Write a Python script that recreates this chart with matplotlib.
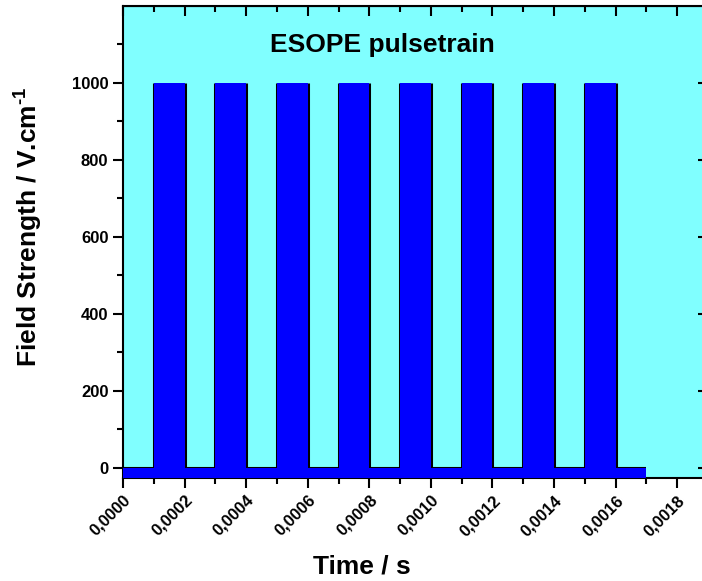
import numpy as np
import matplotlib
matplotlib.use("Agg")
import matplotlib.pyplot as plt

# pulse train values
pulse_on = [0.0001, 0.0003, 0.0005, 0.0007, 0.0009, 0.0011, 0.0013, 0.0015]
pulse_off = [0.0002, 0.0004, 0.0006, 0.0008, 0.0010, 0.0012, 0.0014, 0.0016]
amplitude = 1000
t_start = 0.0
t_stop = 0.0017

x_ticks = [0.0, 0.0002, 0.0004, 0.0006, 0.0008, 0.0010, 0.0012, 0.0014, 0.0016, 0.0018]
x_labels = ["0,0000", "0,0002", "0,0004", "0,0006", "0,0008", "0,0010",
            "0,0012", "0,0014", "0,0016", "0,0018"]
y_ticks = [0, 200, 400, 600, 800, 1000]

# square wave built from the on/off times
t = [t_start]
v = [0]
for a, b in zip(pulse_on, pulse_off):
    t += [a, a, b, b]
    v += [0, amplitude, amplitude, 0]
t.append(t_stop)
v.append(0)
t = np.array(t)
v = np.array(v)

plt.rcParams['font.family'] = ['Liberation Sans', 'DejaVu Sans']
plt.rcParams['font.weight'] = 'bold'
plt.rcParams['mathtext.fontset'] = 'custom'
plt.rcParams['mathtext.rm'] = 'Liberation Sans:bold'
plt.rcParams['mathtext.bf'] = 'Liberation Sans:bold'

fig = plt.figure(figsize=(7.02, 5.81), dpi=100)
ax = fig.add_axes([123 / 702, 1 - 478 / 581, 585 / 702, 472 / 581])
ax.set_facecolor("#80FFFF")

ymin, ymax = -26, 1200
# black edges of the pulses and the zero line, fill drawn over them
ax.vlines(pulse_on + pulse_off, 0, amplitude, color="black", lw=2.2, zorder=2)
ax.hlines(0, t_start, t_stop, color="black", lw=1.5, zorder=2)
ax.fill_between(t, v, ymin, color="#0000FF", lw=0, zorder=3)

ax.set_xlim(0, 0.0019)
ax.set_ylim(ymin, ymax)
ax.set_xticks(x_ticks)
ax.set_xticklabels(x_labels, rotation=45, ha="right", rotation_mode="anchor")
ax.set_xticks(np.arange(0.0001, 0.0019, 0.0002), minor=True)
ax.set_yticks(y_ticks)
ax.set_yticks(np.arange(100, 1200, 200), minor=True)

ax.tick_params(which="both", width=1.5, labelsize=12, top=False, right=False)
ax.tick_params(which="major", length=7)
ax.tick_params(which="minor", length=4)
ax.tick_params(axis="x", which="both", direction="out")
ax.tick_params(axis="y", which="both", direction="out")
for lab in ax.get_xticklabels() + ax.get_yticklabels():
    lab.set_fontweight("bold")
for s in ax.spines.values():
    s.set_linewidth(1.5)

# top and right ticks point inward, as in Origin
sec_x = ax.secondary_xaxis("top")
sec_x.set_xticks(x_ticks)
sec_x.set_xticks(np.arange(0.0001, 0.0019, 0.0002), minor=True)
sec_x.tick_params(which="both", direction="in", width=1.5, labeltop=False)
sec_x.tick_params(which="major", length=7)
sec_x.tick_params(which="minor", length=4)
sec_y = ax.secondary_yaxis("right")
sec_y.set_yticks(y_ticks)
sec_y.set_yticks(np.arange(100, 1200, 200), minor=True)
sec_y.tick_params(which="both", direction="in", width=1.5, labelright=False)
sec_y.tick_params(which="major", length=7)
sec_y.tick_params(which="minor", length=4)

ax.text(0.443, 0.918, "ESOPE pulsetrain", transform=ax.transAxes,
        ha="center", va="center", fontsize=19, fontweight="bold")

fig.text(28 / 702, 1 - 227 / 581, r"Field Strength / V.cm$^{\text{-1}}$",
         rotation=90, ha="center", va="center", fontsize=19, fontweight="bold")
fig.text(362 / 702, 1 - 566 / 581, "Time / s",
         ha="center", va="center", fontsize=19, fontweight="bold")

fig.savefig("out.png", dpi=100)
